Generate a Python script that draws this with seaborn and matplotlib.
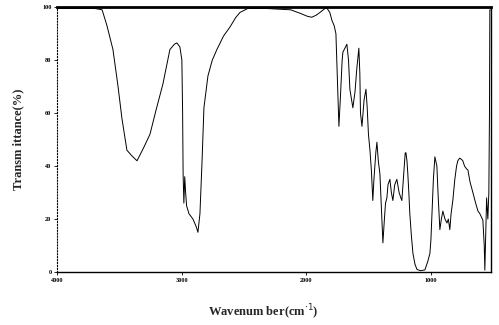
import matplotlib
matplotlib.use("Agg")
import matplotlib.pyplot as plt
import seaborn as sns
import pandas as pd

wavenumber = [
    4000, 3697, 3638, 3599, 3551, 3510, 3479, 3439, 3402, 3358, 3304, 3254, 3206, 3150,
    3094, 3058, 3038, 3014, 2998, 2992, 2988, 2982, 2975, 2968, 2960, 2941, 2909, 2882,
    2869, 2857, 2853, 2842, 2836, 2821, 2789, 2754, 2717, 2665, 2612, 2567, 2532, 2469,
    2322, 2125, 2050, 1988, 1955, 1919, 1890, 1850, 1834, 1811, 1794, 1776, 1762, 1752,
    1742, 1738, 1727, 1712, 1706, 1674, 1661, 1650, 1626, 1609, 1594, 1578, 1570, 1565,
    1553, 1536, 1521, 1511, 1501, 1489, 1477, 1466, 1457, 1442, 1433, 1422, 1409, 1398,
    1388, 1385, 1373, 1364, 1353, 1344, 1329, 1317, 1305, 1290, 1273, 1255, 1241, 1233,
    1221, 1206, 1200, 1192, 1185, 1177, 1169, 1157, 1144, 1128, 1112, 1084, 1048, 1025,
    1008, 1000, 992, 980, 968, 961, 952, 941, 928, 916, 904, 887, 871, 860, 848, 838,
    824, 808, 794, 784, 769, 754, 744, 730, 715, 703, 686, 663, 641, 622, 607, 592, 583,
    572, 567, 560, 553, 543, 535, 530, 527, 523,
]
transmittance = [
    99.5, 99.5, 99, 93, 84, 70, 58, 46, 44, 42, 47, 52, 61, 71,
    84, 86, 86.5, 85, 80, 60, 37, 26, 36, 30, 25, 22, 20, 17,
    15, 20, 22, 35, 42, 62, 74, 80, 84, 89, 92.5, 96, 98, 99.5,
    99.5, 99, 97.7, 96.5, 96.2, 97, 98, 99.5, 99.6, 98, 95, 93, 90, 75,
    60, 55, 65, 80, 83, 86, 80, 69, 62, 68, 77, 84.5, 75, 60,
    55, 65, 69, 62, 52, 46, 38, 27, 35, 45, 49, 42, 37, 25,
    15, 11, 20, 26, 28, 33, 35, 30, 27, 33, 35, 30, 28, 27,
    35, 45, 45, 42, 37, 30, 22, 14, 7, 3, 1, 0.5, 0.8, 4,
    7, 12, 21, 35, 43.5, 42, 40, 28, 16, 20, 23, 20, 18.5, 20, 16, 22,
    27, 35, 40, 42, 43, 42.5, 42, 40, 39, 38.5, 34, 30, 26, 23, 22, 20.5, 19.6,
    10, 0.7, 15, 28, 20, 30, 60, 99, 99,
]
x_ticks = [4000, 3000, 2000, 1000]
y_ticks = [0, 20, 40, 60, 80, 100]

sns.set_style("white")
plt.rcParams["font.family"] = ["Liberation Serif", "DejaVu Serif"]

df = pd.DataFrame({"w": wavenumber, "t": transmittance})

fig = plt.figure(figsize=(4.99, 3.25), dpi=100)
ax = fig.add_axes([0.1142, 0.163, 0.8692, 0.815])
sns.lineplot(data=df, x="w", y="t", sort=False, estimator=None,
             color="black", linewidth=0.7, ax=ax)

ax.set_xlim(4000, 520)
ax.set_ylim(0, 100)
ax.set_xticks(x_ticks)
ax.set_xticklabels([str(v) for v in x_ticks], fontsize=4.5, fontweight="bold")
ax.set_yticks(y_ticks)
ax.set_yticklabels([str(v) for v in y_ticks], fontsize=4.5, fontweight="bold")
ax.tick_params(axis="both", length=2, width=0.6, pad=2, colors="black",
               bottom=True, left=True)

for side, sp in ax.spines.items():
    sp.set_color("black")
ax.spines["top"].set_linewidth(2.0)
ax.spines["left"].set_linewidth(0.8)
ax.spines["left"].set_linestyle(":")
ax.spines["bottom"].set_linewidth(1.0)
ax.spines["right"].set_linewidth(1.0)

ax.set_xlabel("Wavenum ber(cm$^{\\cdot 1}$)", fontsize=9, fontweight="bold")
ax.xaxis.set_label_coords(0.475, -0.115)
ax.set_ylabel("Transm ittance(%)", fontsize=9, fontweight="bold")
ax.yaxis.set_label_coords(-0.075, 0.5)

fig.savefig("out.png", dpi=100)
